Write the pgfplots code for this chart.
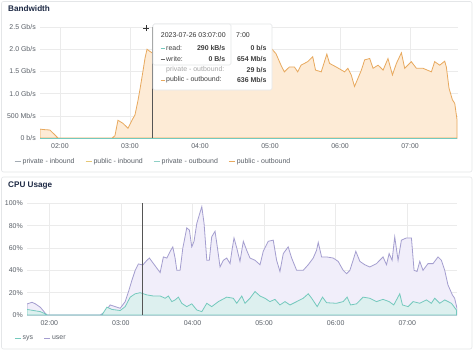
\documentclass[border=0pt]{standalone}
\usepackage{pgfplots}
\pgfplotsset{compat=1.18}
\usepackage{fontspec}
\setmainfont{Liberation Sans}
\definecolor{orangeL}{HTML}{E8A95E}
\definecolor{orangeF}{HTML}{FDEBD6}
\definecolor{purpL}{HTML}{A49ECF}
\definecolor{purpF}{HTML}{F1EEFA}
\definecolor{tealL}{HTML}{74C9BD}
\definecolor{tealF}{HTML}{DDF0EF}
\definecolor{gridc}{HTML}{EBEBEB}
\definecolor{labc}{HTML}{5A6068}
\definecolor{titc}{HTML}{1E2A45}
\definecolor{panelb}{HTML}{E4E6E8}
\definecolor{privin}{HTML}{A3ABB3}
\definecolor{pubin}{HTML}{E6C877}
\definecolor{privout}{HTML}{8FD0C6}
\definecolor{cursor}{HTML}{555555}
\newcommand{\tk}{\fontsize{7}{8}\selectfont}
\pgfplotsset{
  gstyle/.style={
    scale only axis,
    axis line style={draw=none},
    major tick length=0pt,
    grid=major,
    major grid style={gridc, line width=0.6bp},
    tick label style={font=\tk, color=labc, inner sep=0pt},
    xticklabel style={anchor=north, yshift=-5.5bp},
    yticklabel style={anchor=east, xshift=-4bp},
    xtick={120,180,240,300,360,420},
    xticklabels={02:00,03:00,04:00,05:00,06:00,07:00},
    legend cell align=left,
    legend style={draw=none, fill=none, inner sep=0pt, font=\tk, text=labc,
      /tikz/every even column/.append style={column sep=9bp},
      nodes={inner sep=1.5bp}},
  }
}
\begin{document}
\begin{tikzpicture}[x=1bp,y=1bp]
\useasboundingbox (0,0) rectangle (474,351);
\fill[white] (0,0) rectangle (474,351);
\draw[panelb, line width=0.6bp, rounded corners=2bp] (1.5,179) rectangle (472,349.5);
\draw[panelb, line width=0.6bp, rounded corners=2bp] (1.5,2) rectangle (472,174);
\node[anchor=west, inner sep=0pt, font=\fontsize{8.2}{9}\selectfont\bfseries, text=titc] at (8,342) {Bandwidth};
\node[anchor=west, inner sep=0pt, font=\fontsize{8.2}{9}\selectfont\bfseries, text=titc] at (8,165.3) {CPU Usage};

\begin{axis}[gstyle, at={(40bp,213bp)}, anchor=south west, width=418bp, height=111bp,
  xmin=102.9, xmax=461.1, ymin=0, ymax=2.5,
  ytick={0,0.5,1,1.5,2,2.5},
  yticklabels={0 b/s,500 Mb/s,1.0 Gb/s,1.5 Gb/s,2.0 Gb/s,2.5 Gb/s},
  legend columns=4,
  legend style={at={(-0.062,-0.2135)}, anchor=west},
  legend image code/.code={\draw[#1, line width=0.9bp] (0bp,0bp) -- (6bp,0bp);},
]
\addplot[draw=orangeL, fill=orangeF, line width=0.8bp, forget plot] coordinates {
(102.9,0.20) (106,0.19) (111.4,0.18) (118.3,0) (164.6,0) (167.1,0.05) (169.7,0.40)
(174,0.33) (178.3,0.22) (181.7,0.40) (184.3,0.52) (186.9,0.85) (188.6,1.10) (191.1,1.50)
(192.9,1.80) (194.6,2.00) (197.1,1.95) (200,1.90) (210,1.70) (220,1.78) (230,1.62)
(240,1.80) (250,1.66) (260,1.72) (270,1.58) (280,1.76) (290,1.70) (298,1.86)
(301.7,2.00) (305.1,1.90) (309.4,1.64) (312.3,1.49) (316.6,1.60) (320.9,1.60) (323.7,1.49)
(326.6,1.64) (332.3,1.72) (336.6,1.83) (339,1.53) (343.9,1.49) (348.7,1.89) (351,1.68)
(356.7,1.60) (363.9,1.49) (366.7,1.57) (369.6,1.42) (372.4,1.16) (375.3,1.34) (378.3,1.53)
(381.1,1.76) (385.4,1.79) (388.3,1.57) (392.6,1.64) (396.9,1.53) (401.1,1.79) (404.9,1.42)
(408.3,1.68) (412.6,1.92) (415.4,1.57) (421.1,1.72) (425.4,1.57) (431.1,1.57) (438.3,1.49)
(441.1,1.72) (445.4,1.64) (449.7,1.73) (451.1,1.60) (453.4,1.12) (456.3,0.86) (458.3,0.78)
(460.3,0.40)} \closedcycle;
\addplot[privin, line width=0.8bp, forget plot] coordinates {(102.9,0) (460.3,0)};
\addplot[pubin, line width=0.8bp, forget plot] coordinates {(102.9,0) (460.3,0)};
\addplot[tealL, line width=0.8bp, forget plot] coordinates {(102.9,0) (460.3,0)};
\draw[cursor, line width=0.8bp] (axis cs:198.9,0) -- (axis cs:198.9,2.5);
\addlegendimage{privin}
\addlegendentry{private - inbound}
\addlegendimage{pubin}
\addlegendentry{public - inbound}
\addlegendimage{privout}
\addlegendentry{private - outbound}
\addlegendimage{orangeL}
\addlegendentry{public - outbound}
\end{axis}

\begin{axis}[gstyle, at={(27bp,36bp)}, anchor=south west, width=430bp, height=111.7bp,
  xmin=101.3, xmax=461.7, ymin=0, ymax=100,
  ytick={0,20,40,60,80,100},
  yticklabels={0\%,20\%,40\%,60\%,80\%,100\%},
  legend columns=2,
  legend style={at={(-0.030,-0.206)}, anchor=west},
  legend image code/.code={\draw[#1, line width=0.9bp] (0bp,0bp) -- (6bp,0bp);},
]
\addplot[draw=purpL, fill=purpF, line width=0.8bp, forget plot] coordinates {
(101.3,9.9) (105.5,11.4) (108.3,10) (112.5,6.9) (116.7,1.5) (118.1,0) (162.7,0) (166.9,3)
(171,9) (175.2,7.5) (179.4,6) (183.6,12) (186.4,21) (189.2,31) (192,40) (194.7,45.7)
(198.4,44.8) (201.8,49) (203.9,51) (207.3,46) (211.5,40) (212.9,38) (215.6,52) (218.5,51)
(221.3,57) (223.5,61) (225.4,51) (226.9,40) (229.6,40) (231.9,60) (233.2,67) (235.2,78)
(237.4,76) (239.4,61) (241.3,66) (243.6,82) (245.8,90) (247.8,97) (249.7,82) (252,49)
(254.1,49) (256.1,70) (258.9,75) (260.8,61) (263.1,43) (265.9,49) (268.7,51) (271.5,46)
(273.1,58) (274.8,69) (277.1,60) (279.8,48) (282.6,66) (285.4,58) (288.2,51) (292.4,49)
(296.6,45) (299.3,57) (303.5,66) (307.7,67) (310.5,49) (313.3,39) (316.1,55) (320.2,61)
(323.1,51) (327.3,40) (332.8,40) (337,45) (341.2,51) (344,58) (345.4,65) (348.2,52)
(352.4,52) (357.9,51) (362.1,48) (366.3,40) (369.1,37) (371.9,40) (374.6,49) (376.9,57)
(380.3,48) (384.4,45) (388.6,43) (394.2,46) (399.7,52) (402.6,45) (404.8,55) (407.3,49)
(409.5,70) (412.3,49) (415.1,67) (419.3,69) (423.5,69) (425.7,40) (428.2,39) (430.5,48)
(433.2,40) (437.4,46) (441.6,46) (445.8,52) (448.6,49) (451.4,40) (454.1,27) (457.8,18)
(459.7,15) (461.7,6)} \closedcycle;
\addplot[draw=tealL, fill=tealF, line width=0.8bp, forget plot] coordinates {
(101.3,5) (106.9,4) (112.5,3) (116.7,1) (118.3,0) (164.1,0) (168.3,7) (172.5,5) (179.4,4)
(183.6,7.5) (187.8,16) (192,19) (196.2,20) (201.8,18) (207.3,17) (212.9,17) (217.1,15)
(219.8,17) (222.7,12) (225.4,13.5) (228.2,16) (231,10.5) (235.2,7.5) (239.4,10) (243.6,4.5)
(247.8,3) (252,10.5) (256.1,7.5) (261.7,12) (268.7,16) (274.2,15) (277.1,10.5) (281.3,17)
(284,10.5) (288.2,15) (292.4,21) (296.6,17) (300.7,15) (304.9,12) (309.1,14) (313.3,9)
(317.5,12) (321.7,9) (327.3,12) (332.8,15) (337,19) (339.9,15) (344.5,7.5) (349,16)
(352.4,11) (360.7,10.5) (366.3,12) (369.6,16) (372.5,9) (377.5,10) (383,16) (388.6,15)
(394.2,12) (399.7,14) (404.8,12) (408.7,9) (413.7,19) (416,9) (420.7,7.5) (424.9,12)
(430.5,10.5) (436.1,13.5) (440.2,10.5) (443,15) (447.2,10.5) (451.4,13.5) (457,10.5)
(461.2,4.5)} \closedcycle;
\draw[cursor, line width=0.8bp] (axis cs:198.1,0) -- (axis cs:198.1,100);
\addlegendimage{tealL}
\addlegendentry{sys}
\addlegendimage{purpL}
\addlegendentry{user}
\end{axis}

% tooltip (back)
\draw[draw=panelb, fill=white, line width=0.6bp, rounded corners=1.5bp] (153,261) rectangle (272,327);
\node[anchor=east, inner sep=0pt, font=\fontsize{7}{8}\selectfont, text=black!80] at (250,316) {7:00};
\node[anchor=east, inner sep=0pt, font=\fontsize{7}{8}\selectfont\bfseries, text=black!75] at (266.7,302.7) {0 b/s};
\node[anchor=east, inner sep=0pt, font=\fontsize{7}{8}\selectfont\bfseries, text=black!75] at (266.7,291.7) {654 Mb/s};
\node[anchor=east, inner sep=0pt, font=\fontsize{7}{8}\selectfont\bfseries, text=black!75] at (266.7,281) {29 b/s};
\node[anchor=east, inner sep=0pt, font=\fontsize{7}{8}\selectfont\bfseries, text=black!75] at (266.7,271) {636 Mb/s};
\node[anchor=west, inner sep=0pt, font=\fontsize{7}{8}\selectfont, text=black!35] at (166,281.5) {private - outbound:};
\draw[orangeL, line width=1bp] (160.5,271) -- (164.5,271);
\node[anchor=west, inner sep=0pt, font=\fontsize{7}{8}\selectfont, text=black!75] at (166,271) {public - outbound:};
% tooltip (front)
\draw[draw=panelb, fill=white, line width=0.6bp, rounded corners=1.5bp] (153,286) rectangle (231,327);
\node[anchor=west, inner sep=0pt, font=\fontsize{7}{8}\selectfont, text=black!80] at (160.7,316) {2023-07-26 03:07:00};
\draw[tealL, line width=1bp] (160.5,302.7) -- (164.5,302.7);
\node[anchor=west, inner sep=0pt, font=\fontsize{7}{8}\selectfont, text=black!75] at (166,302.7) {read:};
\node[anchor=east, inner sep=0pt, font=\fontsize{7}{8}\selectfont\bfseries, text=black!75] at (225.5,302.7) {290 kB/s};
\draw[black!60, line width=1bp] (160.5,291.7) -- (164.5,291.7);
\node[anchor=west, inner sep=0pt, font=\fontsize{7}{8}\selectfont, text=black!75] at (166,291.7) {write:};
\node[anchor=east, inner sep=0pt, font=\fontsize{7}{8}\selectfont\bfseries, text=black!75] at (225.5,291.7) {0 B/s};
% crosshair
\draw[black!80, line width=0.6bp] (143,323) -- (149,323) (146,320) -- (146,326);
\end{tikzpicture}
\end{document}
